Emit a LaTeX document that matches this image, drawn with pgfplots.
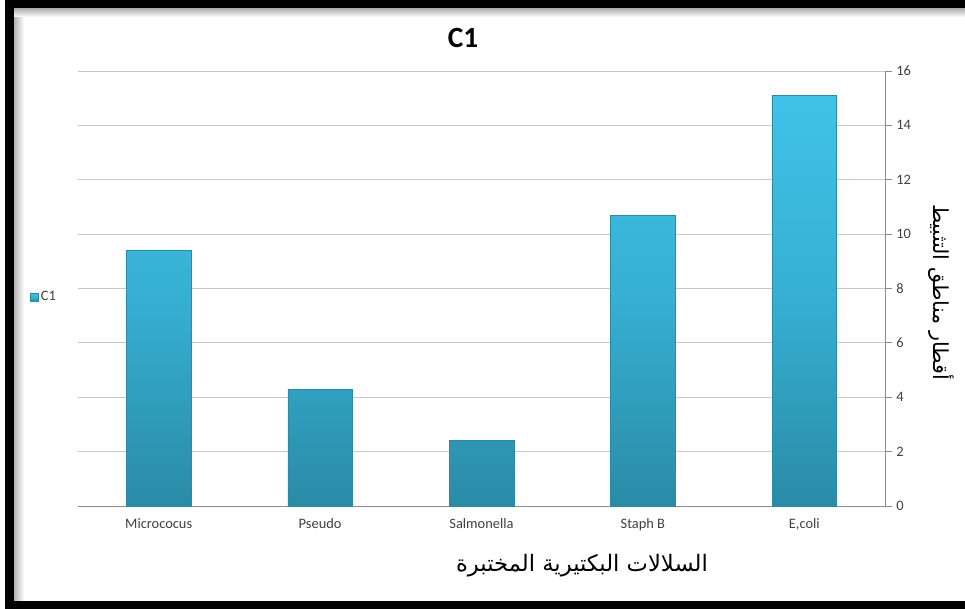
\documentclass[border=0pt]{standalone}
\usepackage{pgfplots}
\pgfplotsset{compat=1.18}
\usepackage{fontspec}
\setmainfont{Carlito}
\newfontfamily\arabicfont[Script=Arabic]{DejaVu Sans}
\TeXXeTstate=1
\definecolor{bartop}{HTML}{3FC3E8}
\definecolor{barmid}{HTML}{36AFD2}
\definecolor{barbot}{HTML}{2A8BA6}
\definecolor{gridc}{HTML}{C8C8C8}
\definecolor{axc}{HTML}{8C8C8C}
\definecolor{txt}{HTML}{404040}
\begin{document}
\begin{tikzpicture}[x=0.75pt,y=0.75pt]
\useasboundingbox (0,0) rectangle (965,609);
\fill[white] (0,0) rectangle (965,609);
% frame
\fill[black] (5,600) rectangle (965,609);
\fill[black] (5,0) rectangle (14,609);
\fill[black] (5,0) rectangle (965,8);
\shade[left color=gray!60, right color=white] (14,8) rectangle (24,600);
\shade[top color=gray!60, bottom color=white] (14,592) rectangle (965,600);
\begin{axis}[
  at={(58.5pt,77.25pt)}, anchor=south west,
  scale only axis, width=605.25pt, height=326.25pt,
  xmin=-0.5, xmax=4.5, ymin=0, ymax=16,
  axis y line*=right, axis x line*=bottom,
  axis line style={axc, line width=0.6pt},
  ytick={0,2,...,16},
  ymajorgrids, grid style={gridc, line width=0.6pt},
  xtick={0,1,2,3,4},
  xticklabels={Micrococus,Pseudo,Salmonella,Staph B,{E,coli}},
  xtick style={draw=none},
  extra x ticks={-0.5,0.5,1.5,2.5,3.5,4.5},
  extra x tick labels={},
  extra x tick style={grid=none, tick style={draw=axc, line width=0.6pt}},
  ytick style={draw=axc, line width=0.6pt},
  tick align=outside, major tick length=5pt,
  tick label style={font=\fontsize{10.8}{12}\selectfont, text=txt},
  xticklabel style={yshift=-1pt},
  /pgf/number format/assume math mode=true,
  legend style={at={(-0.060,0.48)}, anchor=west, draw=none, fill=none,
    font=\fontsize{10.8}{12}\selectfont, text=txt, inner sep=0pt},
  legend image code/.code={\draw[draw=barbot, fill=bartop, line width=0.3pt] (0pt,-3pt) rectangle (6pt,3pt);},
  clip=false,
]
\addplot[ybar, bar width=0.4, draw=barbot, line width=0.4pt, top color=bartop, bottom color=barbot, middle color=barmid]
  coordinates {(0,9.4) (1,4.3) (2,2.4) (3,10.7) (4,15.1)};
\addlegendentry{C1}
\end{axis}
\node[font=\bfseries\fontsize{22}{26}\selectfont] at (463,571) {C1};
\node[font=\arabicfont\fontsize{17}{20}\selectfont] at (582,43) {\beginR السلالات البكتيرية المختبرة\endR};
\node[font=\arabicfont\fontsize{15.5}{18}\selectfont, rotate=-90] at (941,317) {\beginR أقطار مناطق التثبيط\endR};
\end{tikzpicture}
\end{document}
